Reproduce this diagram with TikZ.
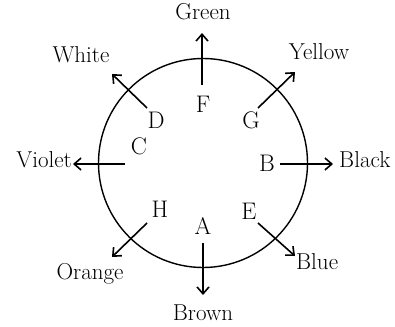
\documentclass[tikz,border=0pt]{standalone}
\usepackage{tikz}
\usetikzlibrary{arrows.meta}
\tikzset{
  colour/.style={font=\fontsize{23}{26}\selectfont, inner sep=0pt, anchor=base},
  letter/.style={font=\fontsize{24}{27}\selectfont, inner sep=0pt, anchor=base},
  pointer/.style={line width=1.6pt, -{Straight Barb[length=2.4mm,width=4.2mm,line width=1.6pt]}}
}
\begin{document}
\begin{tikzpicture}[x=1pt,y=-1pt]
  \useasboundingbox (0,0) rectangle (395,326);
  \node[draw, circle, line width=1.4pt, minimum size=209pt, inner sep=0pt] (ring) at (203,163) {};

  % letters inside the ring
  \node[letter] (F) at (203,112) {F};
  \node[letter] (G) at (251,128) {G};
  \node[letter] (B) at (267,171) {B};
  \node[letter] (E) at (249,219) {E};
  \node[letter] (A) at (203,234) {A};
  \node[letter] (H) at (160,217) {H};
  \node[letter] (C) at (139,154) {C};
  \node[letter] (D) at (156,128) {D};

  % colour names
  \node[colour] (green)  at (203,20)  {Green};
  \node[colour] (yellow) at (319,60)  {Yellow};
  \node[colour, anchor=base west] (black) at (339,167) {Black};
  \node[colour, anchor=base west] (blue)  at (296,269) {Blue};
  \node[colour] (brown)  at (203,320) {Brown};
  \node[colour] (orange) at (90,279)  {Orange};
  \node[colour, anchor=base east] (violet) at (72,167) {Violet};
  \node[colour] (white)  at (81,63)   {White};

  % arrow ends
  \coordinate (Ft) at (202,85);  \coordinate (Fh) at (202,33);
  \coordinate (Gt) at (258,108); \coordinate (Gh) at (295,72);
  \coordinate (Bt) at (280,164); \coordinate (Bh) at (333,164);
  \coordinate (Et) at (258,223); \coordinate (Eh) at (295,256);
  \coordinate (At) at (203,243); \coordinate (Ah) at (203,295);
  \coordinate (Ht) at (147,223); \coordinate (Hh) at (112,257);
  \coordinate (Ct) at (125,164); \coordinate (Ch) at (73,164);
  \coordinate (Dt) at (147,108); \coordinate (Dh) at (112,74);

  \foreach \p in {F,G,B,E,A,H,C,D}
    \draw[pointer] (\p t) -- (\p h);
\end{tikzpicture}
\end{document}
